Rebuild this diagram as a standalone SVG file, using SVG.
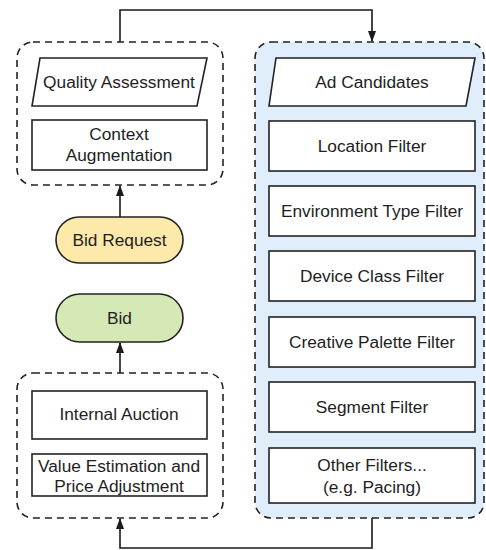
<svg xmlns="http://www.w3.org/2000/svg" width="486" height="550" viewBox="0 0 486 550">
<defs>
<marker id="arr" markerWidth="11" markerHeight="8" refX="10" refY="4" orient="auto" markerUnits="userSpaceOnUse"><path d="M0,0 L11,4 L0,8 Z" fill="#1a1a1a"/></marker>
<style>
.grp{fill:none;stroke:#222;stroke-width:1.6;stroke-dasharray:7,5}
.box{fill:#fff;stroke:#222;stroke-width:1.6}
.t{font-family:"Liberation Sans",Arial,sans-serif;font-size:17.3px;fill:#1e1e1e;text-anchor:middle}
.con{fill:none;stroke:#1a1a1a;stroke-width:1.6}
</style>
</defs>
<rect width="486" height="550" fill="#fff"/>
<g id="group-top-left"><rect class="grp" x="17" y="42" width="206" height="143" rx="16"/></g>
<g id="group-filters"><rect class="grp" x="255" y="42" width="229" height="476" rx="16" style="fill:#dfeefa"/></g>
<g id="group-bottom-left"><rect class="grp" x="17" y="373" width="206" height="145" rx="16"/></g>
<g id="connectors">
<path class="con" d="M120,42 V10 H372 V41" marker-end="url(#arr)"/>
<path class="con" d="M120,217 V186" marker-end="url(#arr)"/>
<path class="con" d="M120,373 V343" marker-end="url(#arr)"/>
<path class="con" d="M372,518 V548 H120 V519" marker-end="url(#arr)"/>
</g>
<g id="quality"><polygon class="box" points="40,58 207,58 197,106 32,106"/><text class="t" x="119" y="88">Quality Assessment</text></g>
<g id="context"><rect class="box" x="32" y="120" width="175" height="50"/><text class="t" x="119" y="140">Context</text><text class="t" x="119" y="161">Augmentation</text></g>
<g id="bidrequest"><rect x="56" y="217" width="127" height="46" rx="23" fill="#fde9aa" stroke="#222" stroke-width="1.6"/><text class="t" x="119.5" y="246">Bid Request</text></g>
<g id="bid"><rect x="56" y="294" width="127" height="48" rx="24" fill="#d5e9b6" stroke="#222" stroke-width="1.6"/><text class="t" x="119.5" y="324">Bid</text></g>
<g id="auction"><rect class="box" x="32" y="391" width="175" height="48"/><text class="t" x="119" y="420">Internal Auction</text></g>
<g id="value"><rect class="box" x="32" y="454" width="175" height="42"/><text class="t" x="119" y="472">Value Estimation and</text><text class="t" x="119" y="492">Price Adjustment</text></g>
<g id="adcandidates"><polygon class="box" points="276,58 475,58 466,106 269,106"/><text class="t" x="372" y="88">Ad Candidates</text></g>
<g id="location"><rect class="box" x="269" y="121" width="206" height="50"/><text class="t" x="372" y="152">Location Filter</text></g>
<g id="environment"><rect class="box" x="269" y="186" width="206" height="50"/><text class="t" x="372" y="217">Environment Type Filter</text></g>
<g id="device"><rect class="box" x="269" y="251" width="206" height="50"/><text class="t" x="372" y="282">Device Class Filter</text></g>
<g id="creative"><rect class="box" x="269" y="317" width="206" height="50"/><text class="t" x="372" y="348">Creative Palette Filter</text></g>
<g id="segment"><rect class="box" x="269" y="382" width="206" height="50"/><text class="t" x="372" y="413">Segment Filter</text></g>
<g id="other"><rect class="box" x="269" y="448" width="206" height="55"/><text class="t" x="372" y="471">Other Filters...</text><text class="t" x="372" y="493">(e.g. Pacing)</text></g>
</svg>
